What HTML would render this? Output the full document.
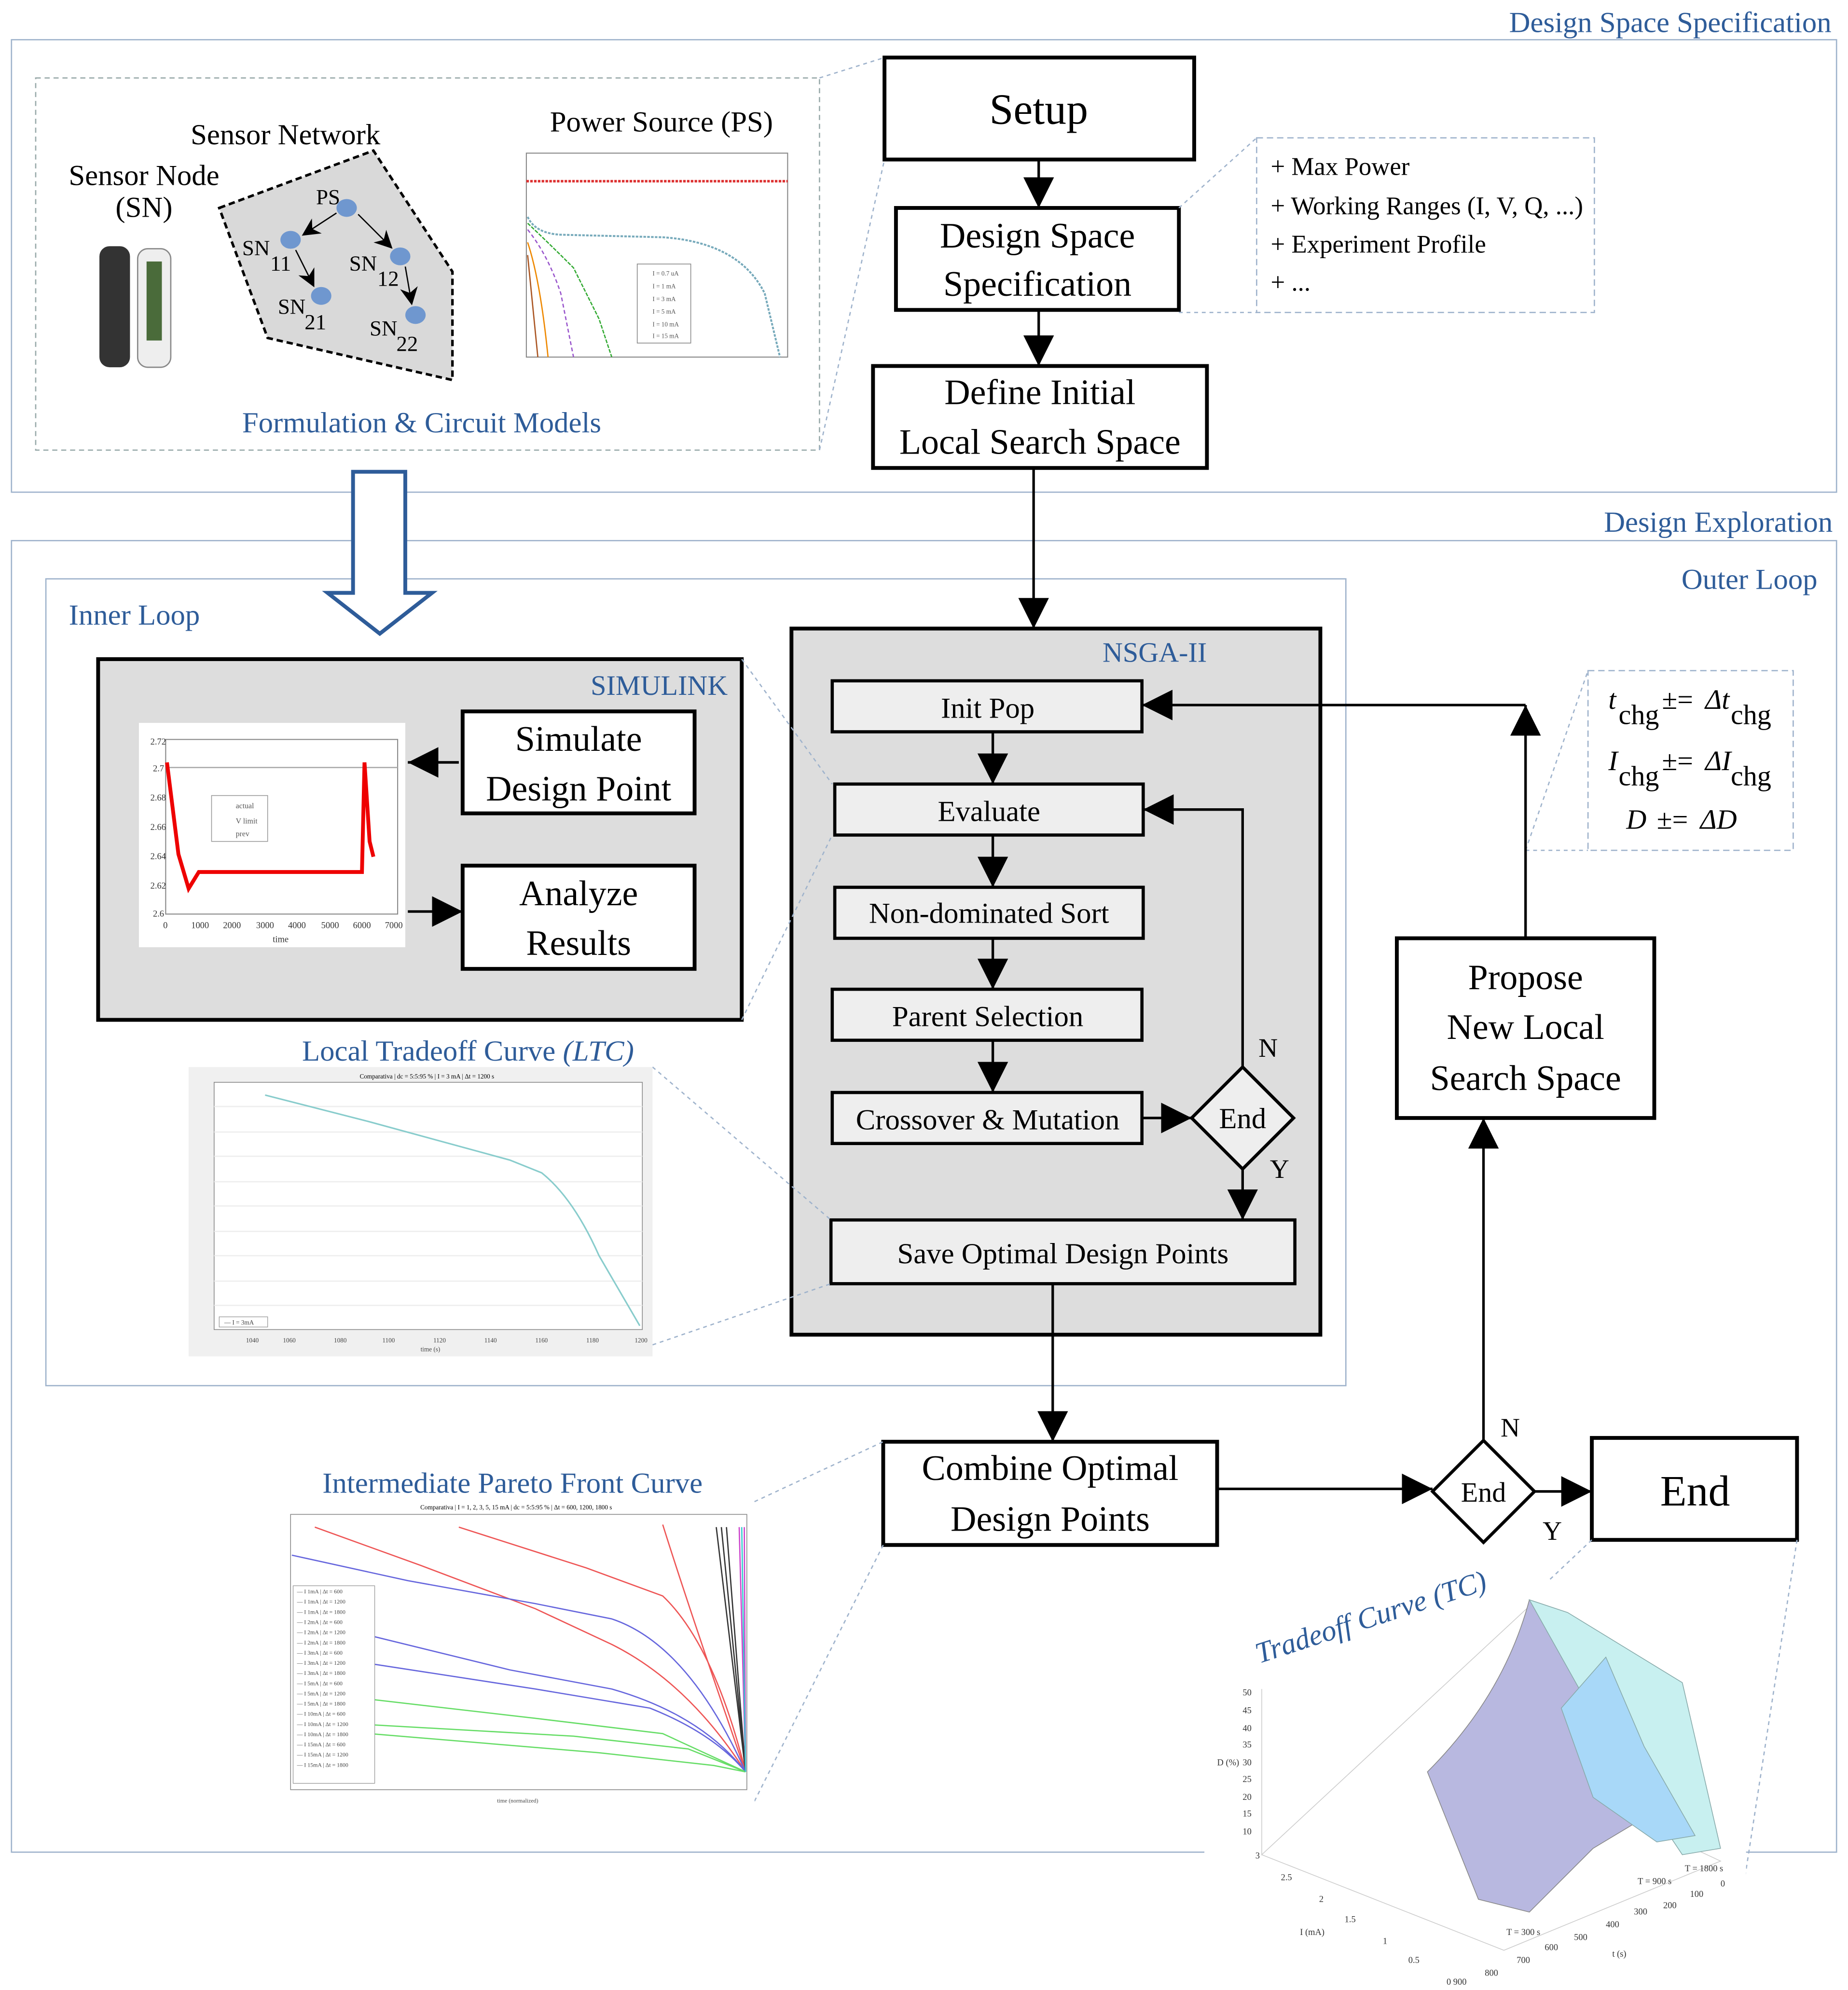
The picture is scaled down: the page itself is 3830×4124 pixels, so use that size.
<!DOCTYPE html>
<html><head><meta charset="utf-8"><style>html,body{margin:0;padding:0;background:#fff}svg{display:block}</style></head>
<body>
<svg xmlns="http://www.w3.org/2000/svg" width="3830" height="4124" viewBox="0 0 1450 1561" font-family="Liberation Serif, serif">
<defs>
<marker id="ah" viewBox="0 0 10 10" markerWidth="14" markerHeight="14" refX="9" refY="5" orient="auto" markerUnits="userSpaceOnUse"><path d="M0,0 L10,5 L0,10 L3,5z" fill="#000"/></marker>
<marker id="ab" viewBox="0 0 10 10" markerWidth="24" markerHeight="24" refX="10" refY="5" orient="auto" markerUnits="userSpaceOnUse"><path d="M0,0 L10,5 L0,10z" fill="#000"/></marker>
</defs>
<rect width="1450" height="1561" fill="#fff"/>
<!-- Region boxes -->
<rect x="9" y="31" width="1432" height="355" fill="none" stroke="#9fb3cc" stroke-width="1"/>
<text x="1437" y="25" text-anchor="end" font-size="23" fill="#2e5c99">Design Space Specification</text>
<rect x="9" y="424" width="1432" height="1029" fill="none" stroke="#9fb3cc" stroke-width="1"/>
<text x="1438" y="417" text-anchor="end" font-size="23" fill="#2e5c99">Design Exploration</text>
<text x="1426" y="462" text-anchor="end" font-size="23" fill="#2e5c99">Outer Loop</text>
<rect x="36" y="454" width="1020" height="633" fill="none" stroke="#9fb3cc" stroke-width="1"/>
<text x="54" y="490" font-size="23" fill="#2e5c99">Inner Loop</text>

<!-- Formulation dashed box -->
<rect x="28" y="61" width="615" height="292" fill="none" stroke="#9aa" stroke-dasharray="4,3"/>
<text x="190" y="339" font-size="23" fill="#2e5c99">Formulation &amp; Circuit Models</text>
<text x="113" y="145" text-anchor="middle" font-size="23">Sensor Node</text>
<text x="113" y="170" text-anchor="middle" font-size="23">(SN)</text>
<text x="224" y="113" text-anchor="middle" font-size="23">Sensor Network</text>
<text x="519" y="103" text-anchor="middle" font-size="23">Power Source (PS)</text>
<!-- sensor nodes pics -->
<rect x="78" y="193" width="24" height="95" rx="8" fill="#333"/>
<rect x="108" y="195" width="26" height="93" rx="8" fill="#eee" stroke="#888"/>
<rect x="115" y="205" width="12" height="62" fill="#4a6b3a"/>
<!-- network polygon -->
<path d="M172,163 L293,118 L355,213 L355,298 L210,265 Z" fill="#d9d9d9" stroke="#000" stroke-width="2" stroke-dasharray="5,3"/>
<g fill="#6f97cf"><ellipse cx="272" cy="163" rx="8" ry="7"/><ellipse cx="228" cy="188" rx="8" ry="7"/><ellipse cx="314" cy="201" rx="8" ry="7"/><ellipse cx="252" cy="232" rx="8" ry="7"/><ellipse cx="326" cy="247" rx="8" ry="7"/></g>
<g stroke="#000" fill="none"><path d="M264,167 L238,184" marker-end="url(#ah)"/><path d="M281,168 L307,194" marker-end="url(#ah)"/><path d="M232,196 L246,224" marker-end="url(#ah)"/><path d="M318,209 L323,238" marker-end="url(#ah)"/></g>
<g font-size="17"><text x="248" y="160">PS</text><text x="190" y="200">SN</text><text x="212" y="212">11</text><text x="274" y="212">SN</text><text x="296" y="224">12</text><text x="218" y="246">SN</text><text x="239" y="258">21</text><text x="290" y="263">SN</text><text x="311" y="275">22</text></g>
<!-- PS plot -->
<rect x="405" y="117" width="216" height="186" fill="#fff"/>
<rect x="413" y="120" width="205" height="160" fill="none" stroke="#888" stroke-width="0.8"/>
<path d="M413,142 L618,142" stroke="#d33" stroke-width="2" stroke-dasharray="2,1"/>
<path d="M414,170 Q420,183 440,184 L520,186 Q580,190 600,230 L612,280" stroke="#7ab" fill="none" stroke-dasharray="2,1" stroke-width="1.5"/>
<path d="M414,175 Q430,190 450,210 L470,250 L480,280" stroke="#3a3" fill="none" stroke-dasharray="3,1"/>
<path d="M414,180 Q430,200 440,230 L450,280" stroke="#95c" fill="none" stroke-dasharray="3,2"/>
<path d="M414,190 Q424,220 430,280" stroke="#e80" fill="none"/>
<path d="M414,200 Q418,240 422,280" stroke="#a52" fill="none"/>
<rect x="500" y="207" width="42" height="62" fill="#fff" stroke="#888" stroke-width="0.6"/>
<g font-size="5" fill="#555"><text x="512" y="216">I = 0.7 uA</text><text x="512" y="226">I = 1 mA</text><text x="512" y="236">I = 3 mA</text><text x="512" y="246">I = 5 mA</text><text x="512" y="256">I = 10 mA</text><text x="512" y="265">I = 15 mA</text></g>

<!-- Setup chain -->
<rect x="694" y="45" width="243" height="80" fill="#fff" stroke="#000" stroke-width="3"/>
<text x="815" y="97" text-anchor="middle" font-size="34">Setup</text>
<rect x="703" y="163" width="222" height="80" fill="#fff" stroke="#000" stroke-width="3"/>
<text x="814" y="194" text-anchor="middle" font-size="28">Design Space</text>
<text x="814" y="232" text-anchor="middle" font-size="28">Specification</text>
<rect x="685" y="287" width="262" height="80" fill="#fff" stroke="#000" stroke-width="3"/>
<text x="816" y="317" text-anchor="middle" font-size="28">Define Initial</text>
<text x="816" y="356" text-anchor="middle" font-size="28">Local Search Space</text>
<g stroke="#000" stroke-width="2"><path d="M815,125 L815,163" marker-end="url(#ab)"/><path d="M815,243 L815,287" marker-end="url(#ab)"/><path d="M811,367 L811,493" marker-end="url(#ab)"/></g>
<!-- list dashed -->
<rect x="986" y="108" width="265" height="137" fill="none" stroke="#9fb3cc" stroke-dasharray="5,3"/>
<g font-size="20"><text x="997" y="137">+ Max Power</text><text x="997" y="168">+ Working Ranges (I, V, Q, ...)</text><text x="997" y="198">+ Experiment Profile</text><text x="997" y="228">+ ...</text></g>
<g stroke="#9fb3cc" stroke-dasharray="3,3" fill="none"><path d="M925,163 L986,108"/><path d="M925,245 L986,245"/><path d="M643,61 L694,45"/><path d="M643,353 L694,125"/></g>

<!-- hollow arrow -->
<path d="M277,370 L318,370 L318,465 L339,465 L298,497 L257,465 L277,465 Z" fill="#fff" stroke="#2e5c99" stroke-width="3"/>

<!-- SIMULINK -->
<rect x="77" y="517" width="505" height="283" fill="#ddd" stroke="#000" stroke-width="3"/>
<text x="571" y="545" text-anchor="end" font-size="22" fill="#2e5c99">SIMULINK</text>
<rect x="109" y="567" width="209" height="176" fill="#fff"/>
<rect x="130" y="580" width="182" height="137" fill="none" stroke="#888" stroke-width="0.8"/>
<path d="M130,602 L312,602" stroke="#aaa"/>
<path d="M131,598 L140,670 L148,697 L156,684 L284,684 L286,598 L290,660 L293,672" stroke="#e00" fill="none" stroke-width="3"/>
<rect x="166" y="624" width="44" height="36" fill="#fff" stroke="#999" stroke-width="0.6"/>
<g font-size="6" fill="#555"><text x="185" y="634">actual</text><text x="185" y="646">V limit</text><text x="185" y="656">prev</text></g>
<g font-size="7" fill="#333"><text x="118" y="584">2.72</text><text x="120" y="605">2.7</text><text x="118" y="628">2.68</text><text x="118" y="651">2.66</text><text x="118" y="674">2.64</text><text x="118" y="697">2.62</text><text x="120" y="719">2.6</text><text x="128" y="728">0</text><text x="150" y="728">1000</text><text x="175" y="728">2000</text><text x="201" y="728">3000</text><text x="226" y="728">4000</text><text x="252" y="728">5000</text><text x="277" y="728">6000</text><text x="302" y="728">7000</text><text x="214" y="739">time</text></g>
<rect x="363" y="558" width="182" height="80" fill="#fff" stroke="#000" stroke-width="3"/>
<text x="454" y="589" text-anchor="middle" font-size="28">Simulate</text>
<text x="454" y="628" text-anchor="middle" font-size="28">Design Point</text>
<rect x="363" y="679" width="182" height="81" fill="#fff" stroke="#000" stroke-width="3"/>
<text x="454" y="710" text-anchor="middle" font-size="28">Analyze</text>
<text x="454" y="749" text-anchor="middle" font-size="28">Results</text>
<g stroke="#000" stroke-width="2"><path d="M360,598 L320,598" marker-end="url(#ab)"/><path d="M320,715 L363,715" marker-end="url(#ab)"/></g>

<!-- NSGA-II -->
<rect x="621" y="493" width="415" height="554" fill="#ddd" stroke="#000" stroke-width="3"/>
<text x="906" y="519" text-anchor="middle" font-size="22" fill="#2e5c99">NSGA-II</text>
<g fill="#eee" stroke="#000" stroke-width="2.5">
<rect x="653" y="534" width="243" height="40"/><rect x="655" y="615" width="242" height="40"/><rect x="655" y="696" width="242" height="40"/><rect x="653" y="776" width="243" height="40"/><rect x="653" y="857" width="243" height="40"/><rect x="652" y="957" width="364" height="50"/>
<path d="M975,837 L1015,877 L975,917 L935,877 Z"/></g>
<g font-size="23" text-anchor="middle"><text x="775" y="563">Init Pop</text><text x="776" y="644">Evaluate</text><text x="776" y="724">Non-dominated Sort</text><text x="775" y="805">Parent Selection</text><text x="775" y="886">Crossover &amp; Mutation</text><text x="834" y="991">Save Optimal Design Points</text><text x="975" y="885">End</text></g>
<g stroke="#000" stroke-width="2" fill="none"><path d="M779,574 L779,615" marker-end="url(#ab)"/><path d="M779,655 L779,696" marker-end="url(#ab)"/><path d="M779,736 L779,776" marker-end="url(#ab)"/><path d="M779,816 L779,857" marker-end="url(#ab)"/><path d="M896,877 L935,877" marker-end="url(#ab)"/><path d="M975,837 L975,635 L897,635" marker-end="url(#ab)"/><path d="M975,917 L975,957" marker-end="url(#ab)"/><path d="M826,1007 L826,1131" marker-end="url(#ab)"/></g>
<text x="995" y="829" text-anchor="middle" font-size="21">N</text>
<text x="1004" y="924" text-anchor="middle" font-size="21">Y</text>

<!-- Outer loop -->
<rect x="1096" y="736" width="202" height="141" fill="#fff" stroke="#000" stroke-width="3"/>
<g font-size="28" text-anchor="middle"><text x="1197" y="776">Propose</text><text x="1197" y="815">New Local</text><text x="1197" y="855">Search Space</text></g>
<rect x="1246" y="526" width="161" height="141" fill="none" stroke="#9fb3cc" stroke-dasharray="5,3"/>
<g font-size="22" font-style="italic"><text x="1262" y="556">t</text><text x="1338" y="556">Δt</text><text x="1262" y="604">I</text><text x="1338" y="604">ΔI</text><text x="1276" y="650">D</text><text x="1334" y="650">ΔD</text></g>
<g font-size="22"><text x="1270" y="568">chg</text><text x="1304" y="556">±=</text><text x="1358" y="568">chg</text><text x="1270" y="616">chg</text><text x="1304" y="604">±=</text><text x="1358" y="616">chg</text><text x="1300" y="650">±=</text></g>
<path d="M1197,667 L1246,667" stroke="#9fb3cc" stroke-dasharray="3,3"/>
<path d="M1197,667 L1246,526" stroke="#9fb3cc" stroke-dasharray="3,3"/>
<g stroke="#000" stroke-width="2" fill="none"><path d="M1197,736 L1197,553" marker-end="url(#ab)"/><path d="M1197,553 L896,553" marker-end="url(#ab)"/><path d="M1164,1130 L1164,877" marker-end="url(#ab)"/><path d="M955,1168 L1124,1168" marker-end="url(#ab)"/><path d="M1204,1170 L1249,1170" marker-end="url(#ab)"/></g>
<rect x="693" y="1131" width="262" height="81" fill="#fff" stroke="#000" stroke-width="3"/>
<text x="824" y="1161" text-anchor="middle" font-size="28">Combine Optimal</text>
<text x="824" y="1201" text-anchor="middle" font-size="28">Design Points</text>
<path d="M1164,1130 L1204,1170 L1164,1210 L1124,1170 Z" fill="#fff" stroke="#000" stroke-width="2.5"/>
<text x="1164" y="1178" text-anchor="middle" font-size="22">End</text>
<text x="1185" y="1127" text-anchor="middle" font-size="21">N</text>
<text x="1218" y="1208" text-anchor="middle" font-size="21">Y</text>
<rect x="1249" y="1128" width="161" height="80" fill="#fff" stroke="#000" stroke-width="3"/>
<text x="1330" y="1181" text-anchor="middle" font-size="34">End</text>

<!-- connectors dashed -->
<g stroke="#9fb3cc" stroke-dasharray="3,3" fill="none"><path d="M582,517 L653,615"/><path d="M582,800 L653,655"/><path d="M512,837 L652,957"/><path d="M512,1055 L652,1007"/><path d="M592,1178 L693,1131"/><path d="M592,1413 L693,1212"/><path d="M1249,1208 L1196,1258"/><path d="M1410,1208 L1368,1480"/></g>

<!-- LTC plot -->
<text x="237" y="832" font-size="23" fill="#2e5c99">Local Tradeoff Curve <tspan font-style="italic">(LTC)</tspan></text>
<rect x="148" y="837" width="364" height="227" fill="#f0f0f0"/>
<rect x="168" y="849" width="336" height="194" fill="#fff" stroke="#888" stroke-width="0.6"/>
<g stroke="#eee"><path d="M168,868 H504 M168,888 H504 M168,907 H504 M168,927 H504 M168,946 H504 M168,966 H504 M168,985 H504 M168,1005 H504 M168,1024 H504"/></g>
<path d="M208,859 L290,880 L400,910 L425,920 Q450,940 470,985 L502,1040" stroke="#8cc" fill="none" stroke-width="1.2"/>
<text x="335" y="846" font-size="5" text-anchor="middle">Comparativa | dc = 5:5:95 % | I = 3 mA | Δt = 1200 s</text>
<rect x="172" y="1033" width="38" height="8" fill="#fff" stroke="#999" stroke-width="0.5"/>
<g font-size="5" fill="#444"><text x="176" y="1039">— I = 3mA</text><text x="193" y="1053">1040</text><text x="222" y="1053">1060</text><text x="262" y="1053">1080</text><text x="300" y="1053">1100</text><text x="340" y="1053">1120</text><text x="380" y="1053">1140</text><text x="420" y="1053">1160</text><text x="460" y="1053">1180</text><text x="498" y="1053">1200</text><text x="330" y="1060">time (s)</text></g>

<!-- Pareto plot -->
<text x="253" y="1171" font-size="23" fill="#2e5c99">Intermediate Pareto Front Curve</text>
<rect x="215" y="1178" width="377" height="235" fill="#fff"/>
<rect x="228" y="1188" width="358" height="216" fill="none" stroke="#888" stroke-width="0.6"/>
<text x="405" y="1184" font-size="5" text-anchor="middle">Comparativa | I = 1, 2, 3, 5, 15 mA | dc = 5:5:95 % | Δt = 600, 1200, 1800 s</text>
<g fill="none" stroke-width="1">
<path d="M247,1198 L330,1228 L420,1262 L480,1290 Q540,1320 585,1390" stroke="#e55"/>
<path d="M360,1198 L460,1230 L520,1252 Q560,1290 585,1390" stroke="#e55"/>
<path d="M520,1196 Q540,1260 585,1390" stroke="#e55"/>
<path d="M229,1220 L320,1240 L420,1258 L480,1270 Q540,1290 585,1390" stroke="#66d"/>
<path d="M290,1283 L400,1310 L480,1325 Q550,1345 585,1390" stroke="#66d"/>
<path d="M290,1305 L420,1325 L510,1340 Q560,1360 585,1390" stroke="#66d"/>
<path d="M290,1333 L420,1348 L520,1360 L585,1390" stroke="#6d6"/>
<path d="M290,1353 L450,1362 L540,1372 L585,1390" stroke="#6d6"/>
<path d="M290,1360 L470,1375 L560,1385 L585,1390" stroke="#6d6"/>
<path d="M562,1198 L585,1390 M566,1198 L585,1390 M570,1198 L585,1390" stroke="#333"/>
<path d="M580,1198 L585,1390 M584,1198 L585,1390" stroke="#c4c"/>
<path d="M582,1198 L585,1390" stroke="#3cc"/>
</g>
<rect x="230" y="1244" width="64" height="155" fill="#fff" stroke="#999" stroke-width="0.5"/>
<g font-size="4.5" fill="#444">
<text x="233" y="1250">— I 1mA | Δt = 600</text><text x="233" y="1258">— I 1mA | Δt = 1200</text><text x="233" y="1266">— I 1mA | Δt = 1800</text><text x="233" y="1274">— I 2mA | Δt = 600</text><text x="233" y="1282">— I 2mA | Δt = 1200</text><text x="233" y="1290">— I 2mA | Δt = 1800</text><text x="233" y="1298">— I 3mA | Δt = 600</text><text x="233" y="1306">— I 3mA | Δt = 1200</text><text x="233" y="1314">— I 3mA | Δt = 1800</text><text x="233" y="1322">— I 5mA | Δt = 600</text><text x="233" y="1330">— I 5mA | Δt = 1200</text><text x="233" y="1338">— I 5mA | Δt = 1800</text><text x="233" y="1346">— I 10mA | Δt = 600</text><text x="233" y="1354">— I 10mA | Δt = 1200</text><text x="233" y="1362">— I 10mA | Δt = 1800</text><text x="233" y="1370">— I 15mA | Δt = 600</text><text x="233" y="1378">— I 15mA | Δt = 1200</text><text x="233" y="1386">— I 15mA | Δt = 1800</text>
<text x="390" y="1414">time (normalized)</text></g>

<!-- TC 3D plot -->
<rect x="945" y="1240" width="425" height="321" fill="#fff"/>
<text x="988" y="1305" font-size="23" fill="#2e5c99" font-style="italic" transform="rotate(-18 988 1305)">Tradeoff Curve (TC)</text>
<g stroke="#ccc" fill="none" stroke-width="0.6"><path d="M990,1325 L990,1455 L1200,1260 L1200,1390 M990,1455 L1180,1530 L1350,1460 L1200,1390"/></g>
<path d="M1120,1390 Q1180,1330 1200,1255 L1240,1280 L1270,1350 L1300,1420 L1250,1450 L1200,1500 L1160,1490 Z" fill="#b8b8e0" stroke="#888" stroke-width="0.6"/>
<path d="M1200,1255 L1230,1265 L1320,1320 L1350,1450 L1320,1455 L1270,1380 Z" fill="#c8f0f0" stroke="#8aa" stroke-width="0.6"/>
<path d="M1225,1340 L1260,1300 L1290,1370 L1330,1440 L1300,1445 L1250,1410 Z" fill="#a8d8f8" stroke="#8aa" stroke-width="0.6"/>
<g font-size="7" fill="#333"><text x="975" y="1330">50</text><text x="975" y="1344">45</text><text x="975" y="1358">40</text><text x="975" y="1371">35</text><text x="975" y="1385">30</text><text x="975" y="1398">25</text><text x="975" y="1412">20</text><text x="975" y="1425">15</text><text x="975" y="1439">10</text><text x="955" y="1385">D (%)</text><text x="985" y="1458">3</text><text x="1005" y="1475">2.5</text><text x="1035" y="1492">2</text><text x="1055" y="1508">1.5</text><text x="1085" y="1525">1</text><text x="1105" y="1540">0.5</text><text x="1135" y="1557">0 900</text><text x="1020" y="1518">I (mA)</text><text x="1165" y="1550">800</text><text x="1190" y="1540">700</text><text x="1212" y="1530">600</text><text x="1235" y="1522">500</text><text x="1260" y="1512">400</text><text x="1282" y="1502">300</text><text x="1305" y="1497">200</text><text x="1326" y="1488">100</text><text x="1350" y="1480">0</text><text x="1265" y="1535">t (s)</text><text x="1182" y="1518">T = 300 s</text><text x="1285" y="1478">T = 900 s</text><text x="1322" y="1468">T = 1800 s</text></g>
</svg>
</body></html>
